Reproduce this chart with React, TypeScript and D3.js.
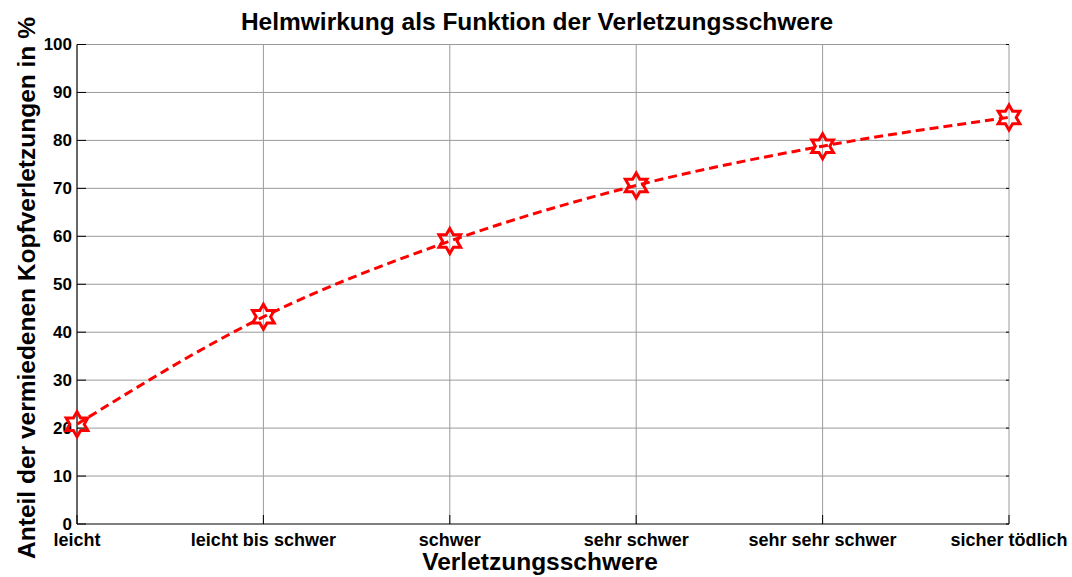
import { useEffect, useRef } from 'react';
import * as d3 from 'd3';

const categories = ['leicht', 'leicht bis schwer', 'schwer', 'sehr schwer', 'sehr sehr schwer', 'sicher tödlich'];
const values = [20.8, 43.2, 59.0, 70.6, 78.8, 84.8];
const yTicks = [0, 10, 20, 30, 40, 50, 60, 70, 80, 90, 100];

const W = 1072;
const H = 577;
const margin = { top: 44.5, right: 63, bottom: 53, left: 77 };

// Sechszackiger Stern (Hexagramm) als Marker
const hexagram = (r: number) => {
  const pts: string[] = [];
  for (let i = 0; i < 12; i++) {
    const a = -Math.PI / 2 + (i * Math.PI) / 6;
    const rr = i % 2 === 0 ? r : r / Math.sqrt(3);
    pts.push(`${(rr * Math.cos(a)).toFixed(2)},${(rr * Math.sin(a)).toFixed(2)}`);
  }
  return `M${pts.join('L')}Z`;
};

const App = () => {
  const svgRef = useRef<SVGSVGElement>(null);

  useEffect(() => {
    if (!svgRef.current) return;
    const svg = d3.select(svgRef.current);
    svg.selectAll('*').remove();

    const innerW = W - margin.left - margin.right;
    const innerH = H - margin.top - margin.bottom;
    const font = 'Liberation Sans, Arial, sans-serif';

    const x = d3.scaleLinear().domain([0, categories.length - 1]).range([0, innerW]);
    const y = d3.scaleLinear().domain([0, 100]).range([innerH, 0]);

    const g = svg.append('g').attr('transform', `translate(${margin.left},${margin.top})`);

    // Gitterlinien
    g.selectAll('line.hgrid').data(yTicks.filter(t => t > 0)).enter().append('line')
      .attr('x1', 0).attr('x2', innerW)
      .attr('y1', d => y(d)).attr('y2', d => y(d))
      .attr('stroke', '#9a9a9a').attr('stroke-width', 1);
    g.selectAll('line.vgrid').data(d3.range(1, categories.length)).enter().append('line')
      .attr('x1', d => x(d)).attr('x2', d => x(d))
      .attr('y1', 0).attr('y2', innerH)
      .attr('stroke', '#9a9a9a').attr('stroke-width', 1);

    // Achsen
    g.append('line').attr('x1', 0).attr('x2', 0).attr('y1', 0).attr('y2', innerH)
      .attr('stroke', '#000').attr('stroke-width', 1.2);
    g.append('line').attr('x1', 0).attr('x2', innerW).attr('y1', innerH).attr('y2', innerH)
      .attr('stroke', '#000').attr('stroke-width', 1.2);

    // Ticks nach innen
    g.selectAll('line.ytick').data(yTicks).enter().append('line')
      .attr('x1', 0).attr('x2', 9).attr('y1', d => y(d)).attr('y2', d => y(d))
      .attr('stroke', '#000');
    g.selectAll('line.ytickr').data(yTicks).enter().append('line')
      .attr('x1', innerW - 3).attr('x2', innerW).attr('y1', d => y(d)).attr('y2', d => y(d))
      .attr('stroke', '#000');
    g.selectAll('line.xtick').data(d3.range(categories.length)).enter().append('line')
      .attr('x1', d => x(d)).attr('x2', d => x(d)).attr('y1', innerH).attr('y2', innerH - 9)
      .attr('stroke', '#000');

    // Tick-Beschriftungen
    g.selectAll('text.ylab').data(yTicks).enter().append('text')
      .attr('x', -5).attr('y', d => y(d)).attr('dy', '0.33em')
      .attr('text-anchor', 'end').attr('font-family', font).attr('font-weight', 'bold')
      .attr('font-size', 17).attr('fill', '#000').text(d => d);
    g.selectAll('text.xlab').data(categories).enter().append('text')
      .attr('x', (_, i) => x(i)).attr('y', innerH + 22)
      .attr('text-anchor', 'middle').attr('font-family', font).attr('font-weight', 'bold')
      .attr('font-size', 18).attr('fill', '#000').text(d => d);

    // Kurve
    const line = d3.line<number>()
      .x((_, i) => x(i))
      .y(d => y(d))
      .curve(d3.curveMonotoneX);
    g.append('path').datum(values).attr('d', line)
      .attr('fill', 'none').attr('stroke', '#ff0000').attr('stroke-width', 3)
      .attr('stroke-dasharray', '9,5');

    // Marker
    g.selectAll('path.mk').data(values).enter().append('path')
      .attr('transform', (d, i) => `translate(${x(i)},${y(d)})`)
      .attr('d', hexagram(12.5))
      .attr('fill', 'none').attr('stroke', '#ff0000').attr('stroke-width', 3)
      .attr('stroke-linejoin', 'miter');

    // Titel und Achsentitel
    svg.append('text').attr('x', 537).attr('y', 30).attr('text-anchor', 'middle')
      .attr('font-family', font).attr('font-weight', 'bold').attr('font-size', 24.5)
      .text('Helmwirkung als Funktion der Verletzungsschwere');
    svg.append('text').attr('x', 540).attr('y', 570).attr('text-anchor', 'middle')
      .attr('font-family', font).attr('font-weight', 'bold').attr('font-size', 24.5)
      .text('Verletzungsschwere');
    svg.append('text')
      .attr('transform', `translate(35,288) rotate(-90)`)
      .attr('text-anchor', 'middle')
      .attr('font-family', font).attr('font-weight', 'bold').attr('font-size', 24.5)
      .text('Anteil der vermiedenen Kopfverletzungen in %');
  }, []);

  return <svg ref={svgRef} width={W} height={H} style={{ display: 'block', position: 'absolute', left: 0, top: 0, background: '#fff' }} />;
};

export default App;
